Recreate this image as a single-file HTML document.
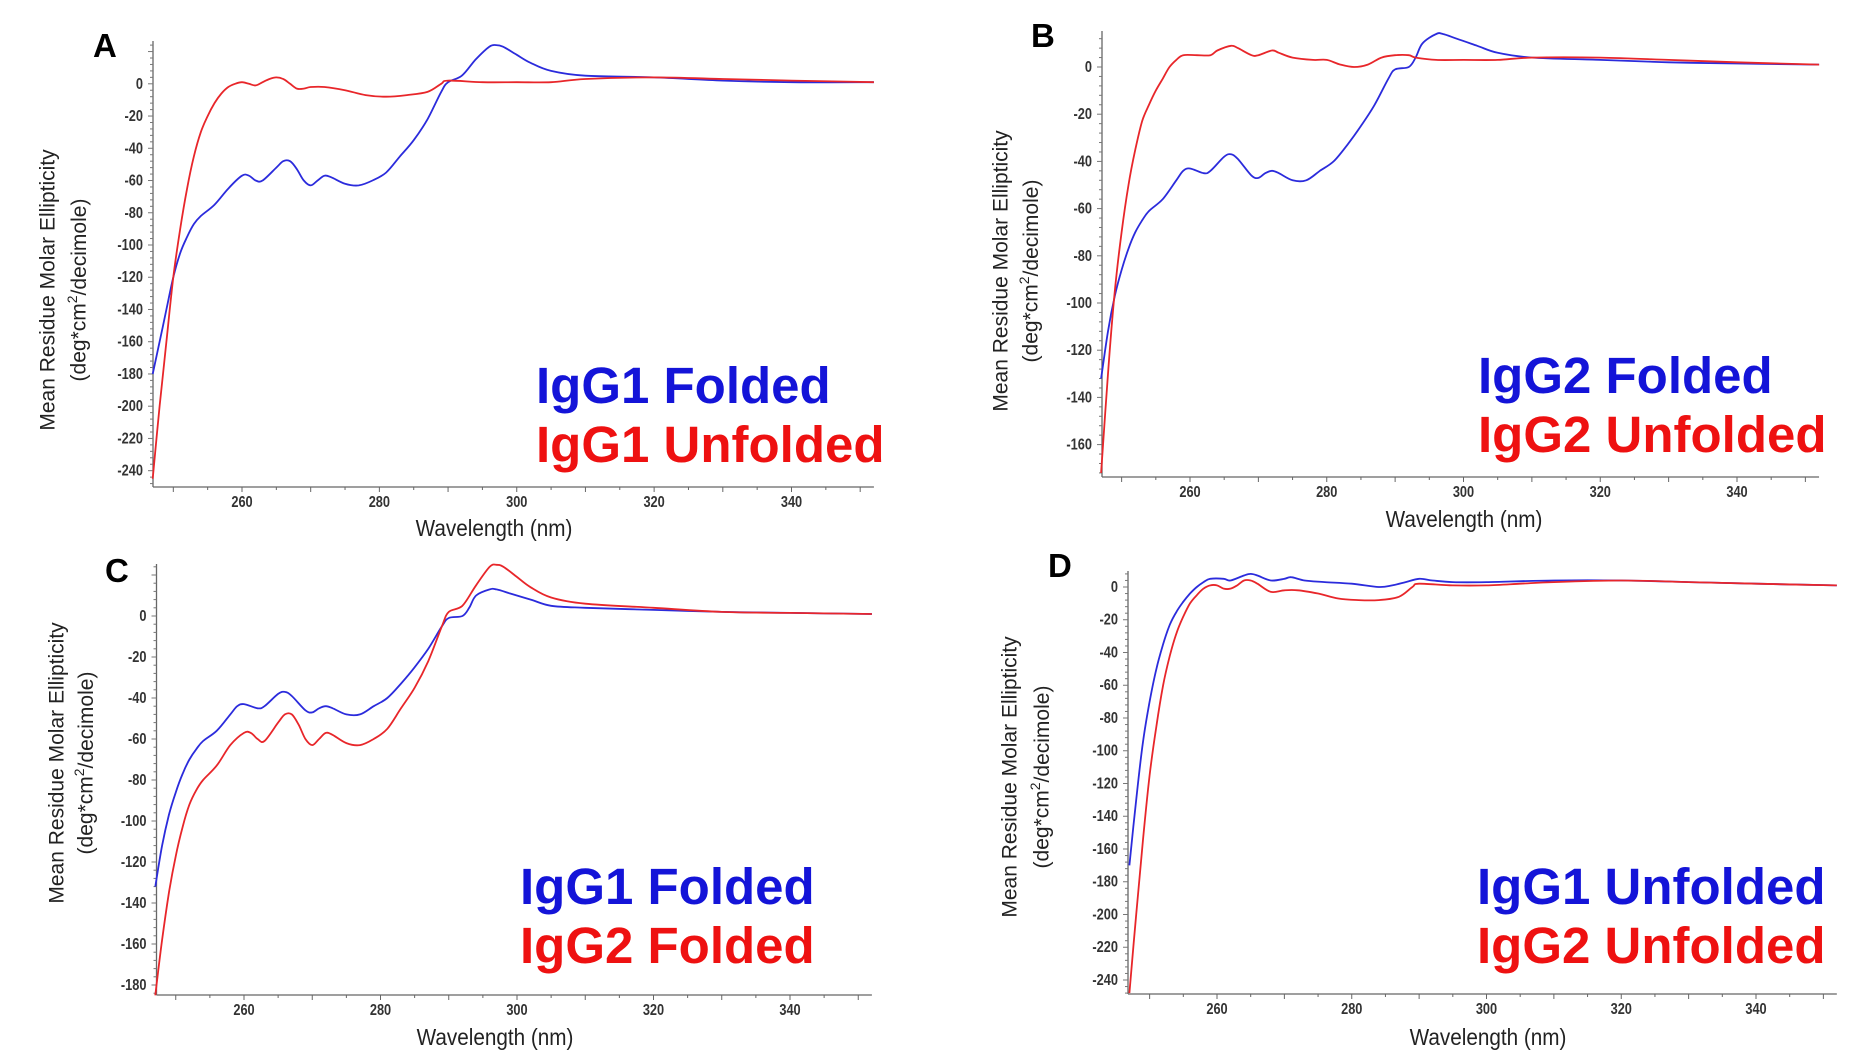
<!DOCTYPE html>
<html><head><meta charset="utf-8">
<style>
html,body{margin:0;padding:0;background:#fff;}
svg{display:block;}
.tick{font-family:"Liberation Sans",sans-serif;font-size:16px;fill:#333;font-weight:bold;}
.ttl{font-family:"Liberation Sans",sans-serif;fill:#222;}
.leg{font-family:"Liberation Sans",sans-serif;font-weight:bold;font-size:51px;}
.pl{font-family:"Liberation Sans",sans-serif;font-weight:bold;font-size:33px;fill:#000;}
</style></head>
<body>
<svg id="fig" width="1864" height="1062" viewBox="0 0 1864 1062" xmlns="http://www.w3.org/2000/svg"></svg>
<script>
// ---- data (wavelength nm, ellipticity) ----
const A_blue_x=[247,248,249,250,251,252,253,254,256,258,260,261,262,263,265,266,267,268,269,270,271,272,273,275,277,279,281,283,285,287,289,290,292,294,296,297,298,300,302,305,310,320,330,340,352];
const A_blue_y=[-180,-160,-140,-120,-105,-95,-87,-82,-75,-65,-57,-57,-60,-60,-52,-48,-48,-53,-60,-63,-60,-57,-58,-62,-63,-60,-55,-45,-35,-22,-5,1,5,15,23,24,23,18,13,8,5,4,2,1,1];
const A_red_x=[247,248,249,250,251,252,253,254,255,256,257,258,259,260,261,262,263,264,265,266,267,268,269,270,272,275,278,281,284,287,289,290,295,300,305,310,320,330,340,352];
const A_red_y=[-245,-200,-160,-120,-90,-65,-45,-30,-20,-12,-6,-2,0,1,0,-1,1,3,4,3,0,-3,-3,-2,-2,-4,-7,-8,-7,-5,0,2,1,1,1,3,4,3,2,1];
const B_blue_x=[247,248,249,250,251,252,253,254,256,258,259,260,262,263,265,266,267,269,270,271,272,273,275,277,279,281,283,285,287,289,290,292,293,294,296,297,299,302,305,310,320,330,340,352];
const B_blue_y=[-132,-112,-97,-86,-77,-70,-65,-61,-56,-48,-44,-43,-45,-44,-38,-37,-39,-46,-47,-45,-44,-45,-48,-48,-44,-40,-33,-25,-16,-5,-1,0,4,10,14,14,12,9,6,4,3,2,1.5,1];
const B_red_x=[247,248,249,250,251,252,253,254,255,256,257,258,259,261,263,264,266,267,269,270,272,273,275,278,280,282,284,286,288,290,292,293,296,300,305,310,320,330,340,352];
const B_red_y=[-172,-130,-95,-70,-50,-35,-23,-16,-10,-5,0,3,5,5,5,7,9,8,5,5,7,6,4,3,3,1,0,1,4,5,5,4,3,3,3,4,4,3,2,1];
const C_blue_x=B_blue_x;
const C_blue_y=[-132,-112,-97,-86,-77,-70,-65,-61,-56,-48,-44,-43,-45,-44,-38,-37,-39,-46,-47,-45,-44,-45,-48,-48,-44,-40,-33,-25,-16,-5,-1,0,4,10,13,13,11,8,5,4,3,2,1.5,1];
const C_red_x=[247,248,249,250,251,252,253,254,256,258,260,261,262,263,265,266,267,268,269,270,271,272,273,275,277,279,281,283,285,287,289,290,292,294,296,297,298,300,302,305,310,320,330,340,352];
const C_red_y=[-185,-158,-135,-117,-103,-92,-85,-80,-73,-63,-57,-57,-60,-61,-52,-48,-48,-53,-60,-63,-60,-57,-58,-62,-63,-60,-55,-45,-35,-22,-5,2,5,15,24,25,24,19,14,9,6,4,2,1.5,1];
const D_blue_x=[247,248,249,250,251,252,253,254,255,256,257,258,259,261,262,264,265,266,268,270,271,273,276,280,284,286,288,290,292,295,300,310,320,330,340,352];
const D_blue_y=[-170,-130,-95,-70,-50,-35,-23,-15,-9,-4,0,3,5,5,4,7,8,7,4,5,6,4,3,2,0,1,3,5,4,3,3,4,4,3,2,1];
const D_red_x=[247,248,249,250,251,252,253,254,255,256,257,258,259,260,261,262,263,264,265,266,268,270,272,275,278,281,284,287,289,290,295,300,305,310,320,330,340,352];
const D_red_y=[-248,-200,-155,-115,-85,-60,-42,-28,-18,-10,-5,-1,1,1,-1,-1,1,4,4,2,-3,-2,-2,-4,-7,-8,-8,-6,0,2,1,1,2,3,4,3,2,1];
const xTickLabels=[260,280,300,320,340];
const A_yTicks=[0,-20,-40,-60,-80,-100,-120,-140,-160,-180,-200,-220,-240];
const B_yTicks=[0,-20,-40,-60,-80,-100,-120,-140,-160];
const C_yTicks=[0,-20,-40,-60,-80,-100,-120,-140,-160,-180];
const D_yTicks=A_yTicks;

// ---- layout ----
const NS="http://www.w3.org/2000/svg";
const svg=document.getElementById('fig');
function mk(tag,attrs,parent){const e=document.createElementNS(NS,tag);for(const k in attrs)e.setAttribute(k,attrs[k]);(parent||svg).appendChild(e);return e;}

const panels=[
 {id:'a',letter:'A',lx:93,ly:57,ax:153,ay:487,x0:242,x340:791.5,yz:83.8,y20:32.24,top:41,xmin:247,xmax:352,yt:A_yTicks,
  t1x:48,t2x:79,tcy:290,xtx:494,xty:536,legx:536,leg1y:403,leg2y:462,leg1:'IgG1 Folded',leg2:'IgG1 Unfolded',
  s:[[A_blue_x,A_blue_y,'#2b2bdc','igg1-folded-line'],[A_red_x,A_red_y,'#e8262a','igg1-unfolded-line']]},
 {id:'b',letter:'B',lx:1031,ly:47,ax:1102,ay:477,x0:1190,x340:1737,yz:67,y20:47.2,top:31,xmin:247,xmax:352,yt:B_yTicks,
  t1x:1001,t2x:1031,tcy:271,xtx:1464,xty:527,legx:1478,leg1y:393,leg2y:452,leg1:'IgG2 Folded',leg2:'IgG2 Unfolded',
  s:[[B_blue_x,B_blue_y,'#2b2bdc','igg2-folded-line'],[B_red_x,B_red_y,'#e8262a','igg2-unfolded-line']]},
 {id:'c',letter:'C',lx:105,ly:582,ax:156.5,ay:995,x0:244,x340:790,yz:616,y20:41,top:564,xmin:247,xmax:352,yt:C_yTicks,
  t1x:57,t2x:86,tcy:763,xtx:495,xty:1045,legx:520,leg1y:904,leg2y:963,leg1:'IgG1 Folded',leg2:'IgG2 Folded',
  s:[[C_blue_x,C_blue_y,'#2b2bdc','igg1-folded-line'],[C_red_x,C_red_y,'#e8262a','igg2-folded-line']]},
 {id:'d',letter:'D',lx:1048,ly:577,ax:1128,ay:994,x0:1217,x340:1756,yz:587,y20:32.75,top:571,xmin:247,xmax:352,yt:D_yTicks,
  t1x:1010,t2x:1042,tcy:777,xtx:1488,xty:1045,legx:1477,leg1y:904,leg2y:963,leg1:'IgG1 Unfolded',leg2:'IgG2 Unfolded',
  s:[[D_blue_x,D_blue_y,'#2b2bdc','igg1-unfolded-line'],[D_red_x,D_red_y,'#e8262a','igg2-unfolded-line']]}
];

function smoothPath(pts){
  let d='M'+pts[0][0].toFixed(1)+','+pts[0][1].toFixed(1);
  for(let i=0;i<pts.length-1;i++){
    const p0=pts[i-1]||pts[i],p1=pts[i],p2=pts[i+1],p3=pts[i+2]||p2;
    const c1x=p1[0]+(p2[0]-p0[0])/6,c1y=p1[1]+(p2[1]-p0[1])/6;
    const c2x=p2[0]-(p3[0]-p1[0])/6,c2y=p2[1]-(p3[1]-p1[1])/6;
    d+=' C'+c1x.toFixed(1)+','+c1y.toFixed(1)+' '+c2x.toFixed(1)+','+c2y.toFixed(1)+' '+p2[0].toFixed(1)+','+p2[1].toFixed(1);
  }
  return d;
}

panels.forEach(p=>{
  const g=mk('g',{});
  
  
  const pxn=(p.x340-p.x0)/80;
  const X=w=>p.x0+(w-260)*pxn;
  const Y=v=>p.yz-v*p.y20/20;
  const xR=X(p.xmax);
  const ya=mk('line',{x1:p.ax,y1:p.top,x2:p.ax,y2:p.ay,stroke:'#666','stroke-width':1.3},g);
  
  const xa=mk('line',{x1:p.ax,y1:p.ay,x2:xR,y2:p.ay,stroke:'#666','stroke-width':1.3},g);
  
  for(let w=250;w<=350;w+=5){
    const t=mk('line',{x1:X(w),y1:p.ay,x2:X(w),y2:p.ay+(w%10===0?5:3),stroke:'#666','stroke-width':1},g);
    
  }
  xTickLabels.forEach(w=>{
    const t=mk('text',{x:X(w),y:p.ay+20,'text-anchor':'middle',class:'tick',transform:'translate('+X(w)+',0) scale(0.8,1) translate('+(-X(w))+',0)'},g);
    t.textContent=w;
    
  });
  for(let v=Math.floor(-(p.ay-p.yz)/p.y20*20/4)*4; Y(v)>=p.top; v+=4){
    if(Y(v)>p.ay) continue;
    const major=(v%20===0);
    const t=mk('line',{x1:p.ax-(major?5:3),y1:Y(v),x2:p.ax,y2:Y(v),stroke:'#777','stroke-width':1},g);
    
  }
  p.yt.forEach(v=>{
    const tx=p.ax-10;
    const t=mk('text',{x:tx,y:Y(v)+5,'text-anchor':'end',class:'tick',transform:'translate('+tx+',0) scale(0.8,1) translate('+(-tx)+',0)'},g);
    t.textContent=v;
    
  });
  const t1=mk('text',{x:p.t1x,y:p.tcy,'text-anchor':'middle','dominant-baseline':'central',class:'ttl','font-size':21,transform:'rotate(-90 '+p.t1x+' '+p.tcy+')'},g);
  t1.textContent='Mean Residue Molar Ellipticity';
  
  const t2=mk('text',{x:p.t2x,y:p.tcy,'text-anchor':'middle','dominant-baseline':'central',class:'ttl','font-size':21,transform:'rotate(-90 '+p.t2x+' '+p.tcy+')'},g);
  t2.innerHTML='(deg*cm<tspan font-size="14" dy="-7">2</tspan><tspan dy="7">/decimole)</tspan>';
  
  const xt=mk('text',{x:p.xtx,y:p.xty,'text-anchor':'middle',class:'ttl','font-size':23,transform:'translate('+p.xtx+',0) scale(0.9,1) translate('+(-p.xtx)+',0)'},g);
  xt.textContent='Wavelength (nm)';
  
  const pl=mk('text',{x:p.lx,y:p.ly,class:'pl'},g);
  pl.textContent=p.letter;
  
  p.s.forEach(s=>{
    const pts=s[0].map((w,i)=>[X(w),Y(s[1][i])]);
    const path=mk('path',{d:smoothPath(pts),fill:'none',stroke:s[2],'stroke-width':1.8},g);
    
  });
  const l1=mk('text',{x:p.legx,y:p.leg1y,class:'leg',fill:'#1414d8'},g);
  l1.textContent=p.leg1;
  
  const l2=mk('text',{x:p.legx,y:p.leg2y,class:'leg',fill:'#ee1111'},g);
  l2.textContent=p.leg2;
  
});
</script>
</body></html>
